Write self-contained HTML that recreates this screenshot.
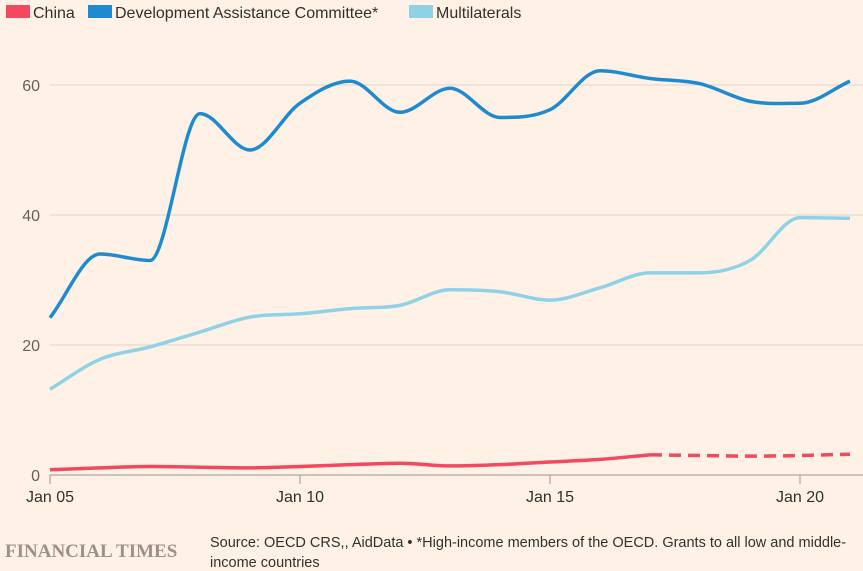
<!DOCTYPE html>
<html><head><meta charset="utf-8"><style>
body{margin:0;background:#fff1e5;width:863px;height:571px;overflow:hidden;font-family:"Liberation Sans",sans-serif}
svg{display:block}
</style></head><body>
<svg id="c" width="863" height="571">
<g id="legend">
<g><rect x="6" y="5" width="24" height="13" fill="#f2495f"/><text x="33" y="18" font-size="16" fill="#33302e">China</text></g>
<g><rect x="88" y="5" width="24" height="13" fill="#1e8bd0"/><text x="115" y="18" font-size="16" fill="#33302e">Development Assistance Committee*</text></g>
<g><rect x="409" y="5" width="24" height="13" fill="#8fd2e6"/><text x="436" y="18" font-size="16" fill="#33302e">Multilaterals</text></g>
</g>
<g id="grid"></g><g id="series"></g><g id="xaxis"></g>
<text x="5" y="557" font-family="Liberation Serif,serif" font-size="19" font-weight="bold" fill="#9b918a">FINANCIAL TIMES</text>
<text x="210" y="547" font-size="14.5" fill="#33302e">Source: OECD CRS,, AidData • *High-income members of the OECD. Grants to all low and middle-</text>
<text x="210" y="567" font-size="14.5" fill="#33302e">income countries</text>
</svg>
<script>
const years=[2005,2006,2007,2008,2009,2010,2011,2012,2013,2014,2015,2016,2017,2018,2019,2020,2021];
const dac=[24.2,34,33,55.6,50,57.2,60.6,55.8,59.5,55,56.2,62.2,61,60.2,57.5,57.2,60.6];
const multi=[13.2,17.8,19.7,22,24.3,24.8,25.6,26.1,28.5,28.2,26.9,28.8,31.1,31.1,33,39.6,39.5];
const china=[0.8,1.1,1.3,1.2,1.1,1.3,1.6,1.8,1.4,1.6,2.0,2.4,3.1,3.0,2.9,3.0,3.2];
const chinaSolidEnd=2017;
const yTicks=[0,20,40,60];
const xTicks=[2005,2010,2015,2020];
const xTickLabels=["Jan 05","Jan 10","Jan 15","Jan 20"];
const X=y=>50+(y-2005)*50, Y=v=>475-v*6.5;
const NS="http://www.w3.org/2000/svg";
function mk(t,a,p){const e=document.createElementNS(NS,t);for(const k in a)e.setAttribute(k,a[k]);p.appendChild(e);return e;}
const grid=document.getElementById('grid');
yTicks.forEach(v=>{
 if(v>0){const l=mk('line',{x1:50,x2:863,y1:Y(v),y2:Y(v),stroke:'#e0d3c8','stroke-width':1},grid);
 
 }
 const t=mk('text',{x:40,y:Y(v)+6,'font-size':16,fill:'#66605c','text-anchor':'end'},grid);t.textContent=v;
 
 
});
const xa=document.getElementById('xaxis');
const base=mk('line',{x1:50,x2:863,y1:475,y2:475,stroke:'#9e958e','stroke-width':1},xa);


xTicks.forEach((v,i)=>{
 mk('line',{x1:X(v),x2:X(v),y1:475,y2:484,stroke:'#9e958e'},xa);
 const t=mk('text',{x:X(v),y:502,'font-size':16,fill:'#33302e','text-anchor':'middle'},xa);t.textContent=xTickLabels[i];
 
 
});
function path(xs,vs){
 const p=xs.map((x,i)=>[X(x),Y(vs[i])]);const n=p.length;
 const d=[],m=[];
 for(let i=0;i<n-1;i++)d.push((p[i+1][1]-p[i][1])/(p[i+1][0]-p[i][0]));
 for(let i=0;i<n;i++){
  if(i==0)m.push(d[0]);else if(i==n-1)m.push(d[n-2]);
  else m.push(d[i-1]*d[i]<=0?0:(d[i-1]+d[i])/2);
 }
 let s=`M${p[0][0]},${p[0][1]}`;
 for(let i=0;i<n-1;i++){const h=(p[i+1][0]-p[i][0])/3;
  s+=`C${p[i][0]+h},${p[i][1]+m[i]*h} ${p[i+1][0]-h},${p[i+1][1]-m[i+1]*h} ${p[i+1][0]},${p[i+1][1]}`;}
 return s;
}
const sg=document.getElementById('series');
const a=mk('path',{d:path(years,multi),fill:'none',stroke:'#8fd2e6','stroke-width':3.5},sg);


const b=mk('path',{d:path(years,dac),fill:'none',stroke:'#1e8bd0','stroke-width':3.5},sg);


const k=years.indexOf(chinaSolidEnd);
const c1=mk('path',{d:path(years.slice(0,k+1),china.slice(0,k+1)),fill:'none',stroke:'#f2495f','stroke-width':3.5},sg);


const c2=mk('path',{d:path(years.slice(k),china.slice(k)),fill:'none',stroke:'#f2495f','stroke-width':3.5,'stroke-dasharray':'12 7'},sg);


</script>
</body></html>
